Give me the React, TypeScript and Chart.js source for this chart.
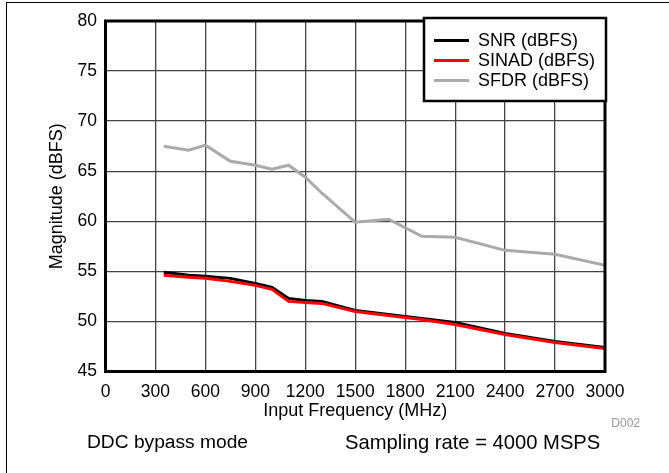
import React, { useEffect, useRef } from "react";
import { Chart, registerables } from "chart.js";

Chart.register(...registerables);

const FREQS = [350, 500, 600, 750, 900, 1000, 1100, 1200, 1300, 1500, 1700, 1900, 2100, 2400, 2700, 3000];
const SNR = [54.9, 54.6, 54.5, 54.3, 53.8, 53.4, 52.3, 52.1, 52.0, 51.1, 50.7, 50.3, 49.9, 48.8, 48.0, 47.4];
const SINAD = [54.6, 54.4, 54.3, 54.0, 53.6, 53.2, 52.0, 51.9, 51.8, 51.0, 50.6, 50.2, 49.7, 48.7, 47.9, 47.3];
const SFDR = [67.5, 67.1, 67.6, 66.0, 65.6, 65.2, 65.6, 64.4, 62.8, 59.9, 60.2, 58.5, 58.4, 57.1, 56.7, 55.6];
const SERIES_LABELS = ["SNR (dBFS)", "SINAD (dBFS)", "SFDR (dBFS)"];
const X_TITLE = "Input Frequency (MHz)";
const Y_TITLE = "Magnitude (dBFS)";
const X_MIN = 0, X_MAX = 3000, X_STEP = 300;
const Y_MIN = 45, Y_MAX = 80, Y_STEP = 5;

const FONT = "'Liberation Sans', Arial, sans-serif";

const toPoints = (ys: number[]) => FREQS.map((f, i) => ({ x: f, y: ys[i] }));

const framePlugin = {
  id: "frameBox",
  afterDatasetsDraw(chart: any) {
    const { ctx, chartArea: a } = chart;
    ctx.save();
    ctx.strokeStyle = "#000";
    ctx.lineWidth = 3;
    ctx.strokeRect(a.left, a.top, a.right - a.left, a.bottom - a.top);
    ctx.restore();
  },
};

const legendPlugin = {
  id: "boxLegend",
  afterDraw(chart: any) {
    const { ctx, chartArea: a } = chart;
    const right = a.right + 1;
    const top = a.top - 3;
    const w = 182;
    const h = 83;
    const left = right - w;
    ctx.save();
    ctx.fillStyle = "#fff";
    ctx.fillRect(left, top, w, h);
    ctx.strokeStyle = "#000";
    ctx.lineWidth = 2.5;
    ctx.strokeRect(left, top, w, h);
    ctx.font = `18px ${FONT}`;
    ctx.textBaseline = "middle";
    ctx.textAlign = "left";
    chart.data.datasets.forEach((ds: any, i: number) => {
      const y = top + 22.5 + i * 20;
      ctx.strokeStyle = ds.borderColor;
      ctx.lineWidth = 3;
      ctx.beginPath();
      ctx.moveTo(left + 10, y);
      ctx.lineTo(left + 45, y);
      ctx.stroke();
      ctx.fillStyle = "#000";
      ctx.fillText(ds.label, left + 54, y + 1);
    });
    ctx.restore();
  },
};

export default function App() {
  const ref = useRef<HTMLCanvasElement | null>(null);

  useEffect(() => {
    if (!ref.current) return;
    const chart = new Chart(ref.current, {
      type: "line",
      data: {
        datasets: [
          { label: SERIES_LABELS[0], data: toPoints(SNR), borderColor: "#000000", borderWidth: 3, pointRadius: 0, order: 1, fill: false },
          { label: SERIES_LABELS[1], data: toPoints(SINAD), borderColor: "#ff0000", borderWidth: 3, pointRadius: 0, order: 0, fill: false },
          { label: SERIES_LABELS[2], data: toPoints(SFDR), borderColor: "#aaaaaa", borderWidth: 3, pointRadius: 0, order: 2, fill: false },
        ],
      },
      options: {
        animation: false,
        responsive: false,
        maintainAspectRatio: false,
        devicePixelRatio: 1,
        layout: { padding: { left: 0, top: 21, right: 64, bottom: 49.5 } },
        plugins: { legend: { display: false }, tooltip: { enabled: false } },
        scales: {
          x: {
            type: "linear",
            min: X_MIN,
            max: X_MAX,
            afterFit: (s: any) => { s.height = 52; },
            ticks: { stepSize: X_STEP, color: "#000", font: { family: FONT, size: 17.5 }, padding: 10, maxRotation: 0, autoSkip: false, callback: (v: any) => String(v) },
            grid: { color: "#444", lineWidth: 1.3, drawTicks: false },
            border: { display: false },
            title: { display: true, text: X_TITLE, color: "#000", font: { family: FONT, size: 18 }, padding: { top: 0, bottom: 1.7 } },
          },
          y: {
            min: Y_MIN,
            max: Y_MAX,
            afterFit: (s: any) => { s.width = 105.5; },
            ticks: { stepSize: Y_STEP, color: "#000", font: { family: FONT, size: 17.5 }, padding: 8.5, callback: (v: any) => String(v) },
            grid: { color: "#444", lineWidth: 1.3, drawTicks: false },
            border: { display: false },
            title: { display: true, text: Y_TITLE, color: "#000", font: { family: FONT, size: 18 }, padding: { top: 46, bottom: 0 } },
          },
        },
      },
      plugins: [framePlugin, legendPlugin],
    });
    return () => chart.destroy();
  }, []);

  return (
    <div style={{ position: "absolute", left: 0, top: 0, width: 669, height: 473, background: "#fff", overflow: "hidden", fontFamily: FONT }}>
      <div style={{ position: "absolute", left: 6, top: 2, width: 680, height: 480, borderTop: "1px solid #000", borderLeft: "1px solid #000" }} />
      <canvas ref={ref} width={669} height={473} style={{ position: "absolute", left: 0, top: 0, width: 669, height: 473 }} />
      <div style={{ position: "absolute", right: 29, top: 416, fontSize: 12, color: "#999", lineHeight: "14px" }}>D002</div>
      <div style={{ position: "absolute", left: 87, top: 431, fontSize: 19.2, color: "#000", lineHeight: "22px", whiteSpace: "nowrap" }}>DDC bypass mode</div>
      <div style={{ position: "absolute", left: 345, top: 431, fontSize: 20.2, color: "#000", lineHeight: "22px", whiteSpace: "nowrap" }}>Sampling rate = 4000 MSPS</div>
    </div>
  );
}
